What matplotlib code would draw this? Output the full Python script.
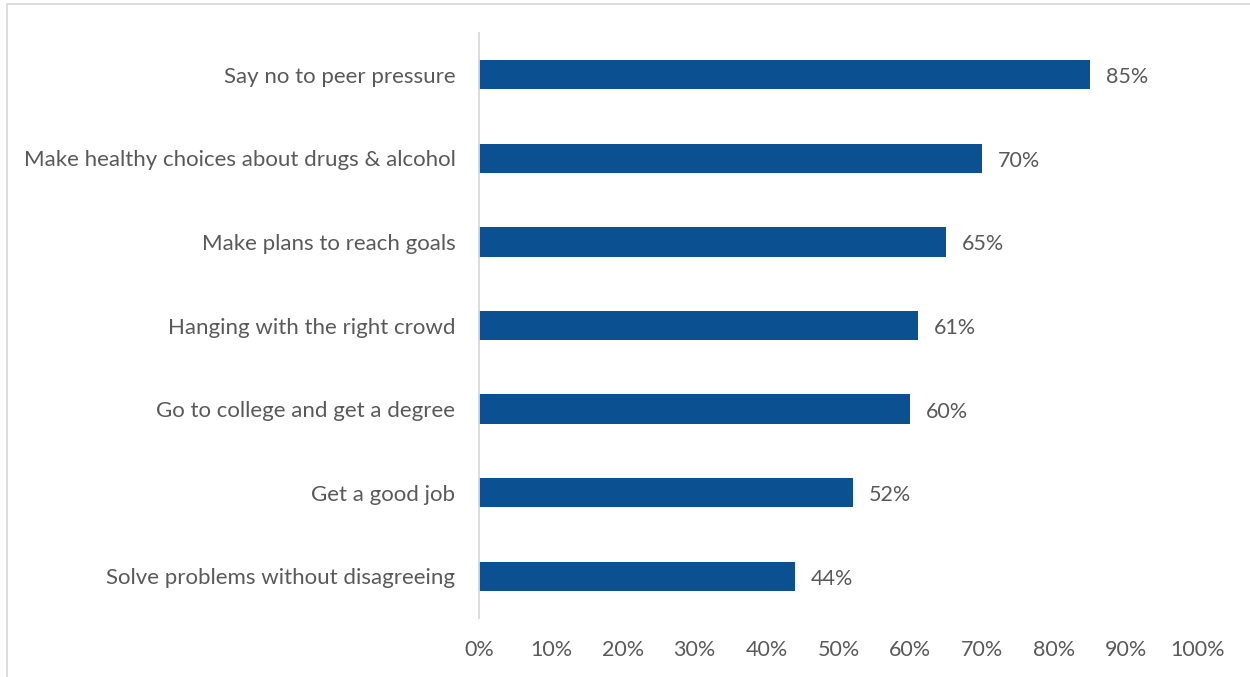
import matplotlib.pyplot as plt
from matplotlib.patches import Rectangle

categories = [
    "Say no to peer pressure",
    "Make healthy choices about drugs & alcohol",
    "Make plans to reach goals",
    "Hanging with the right crowd",
    "Go to college and get a degree",
    "Get a good job",
    "Solve problems without disagreeing",
]
values = [85, 70, 65, 61, 60, 52, 44]
xticks = [0, 10, 20, 30, 40, 50, 60, 70, 80, 90, 100]

bar_color = "#0B5091"
text_color = "#595959"

plt.rcParams["font.family"] = ["Lato", "DejaVu Sans"]

fig = plt.figure(figsize=(12.5, 6.77), dpi=100)
ax = fig.add_axes([0.3832, 0.0871, 0.5752, 0.8642])

y = list(range(len(categories)))
ax.barh(y, values, height=0.35, color=bar_color)
for yi, v in zip(y, values):
    ax.text(v + 2.2, yi + 0.03, f"{v}%", va="center", ha="left",
            fontsize=15.5, color=text_color)

ax.set_xlim(0, 100)
ax.set_ylim(len(categories) - 0.5, -0.5)
ax.set_yticks(y)
ax.set_yticklabels(categories, fontsize=16, color=text_color)
ax.set_xticks(xticks)
ax.set_xticklabels([f"{t}%" for t in xticks], fontsize=15.5, color=text_color)
ax.tick_params(axis="both", length=0)
ax.tick_params(axis="y", pad=17)
ax.tick_params(axis="x", pad=16)

for side in ["top", "right", "bottom"]:
    ax.spines[side].set_visible(False)
ax.spines["left"].set_color("#D9D9D9")
ax.spines["left"].set_linewidth(1.3)

# chart area frame, clipped by the figure edge on the right and bottom
fig.patches.append(Rectangle((7 / 1250, -0.1), 1.2, 1 - 4 / 677 + 0.1,
                             transform=fig.transFigure, fill=False,
                             edgecolor="#D9D9D9", linewidth=1.3))

fig.savefig("out.png", dpi=100)
